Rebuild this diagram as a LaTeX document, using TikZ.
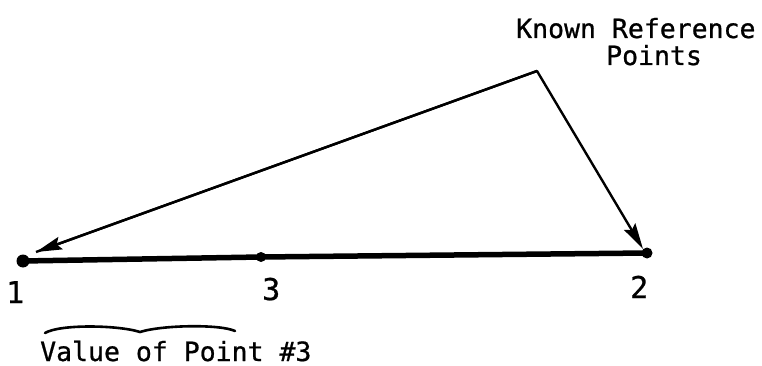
\documentclass[tikz,border=0pt]{standalone}
\usepackage{fontspec}
\newfontfamily\twfont[FakeBold=0.8]{DejaVu Sans Mono}
\usetikzlibrary{arrows.meta}
\begin{document}
\begin{tikzpicture}[x=1pt,y=-1pt,
  lbl/.style={font=\twfont\fontsize{26.5}{30}\selectfont,inner sep=0pt,anchor=base west},
  num/.style={font=\twfont\fontsize{30}{34}\selectfont,inner sep=0pt,anchor=base west},
  arr/.style={line width=2.4pt,-{Stealth[length=26pt,width=13pt,inset=4pt]}},
  dot/.style={circle,fill=black,inner sep=0pt}]
\useasboundingbox (0,0) rectangle (762,366);
% points
\node[dot,minimum size=13pt] (p1) at (23,261) {};
\node[dot,minimum size=10pt] (p3) at (261,257) {};
\node[dot,minimum size=11pt] (p2) at (647,253) {};
\coordinate (apex) at (537,71);
\coordinate (t1) at (36,252);
\coordinate (t2) at (643,249);
% main line
\draw[line width=5.5pt] (p1.center) -- (p3.center) -- (p2.center);
% arrows
\draw[arr,line join=round] (t1) -- (apex) -- (t2);
\draw[arr] (apex) -- (t1);
% labels
\node[lbl] (known) at (516,38) {Known Reference};
\node[lbl] (pts) at (606,65) {Points};
\node[num] (l1) at (6,303) {1};
\node[num] (l3) at (262,300) {3};
\node[num] (l2) at (630,298) {2};
% brace
\draw[line width=2.6pt,line cap=round] (45,333) .. controls (60,324) and (118,325) .. (140,332)
  .. controls (162,325) and (220,324) .. (235,331);
\node[lbl] (val) at (40,361) {Value of Point \#3};
\end{tikzpicture}
\end{document}
